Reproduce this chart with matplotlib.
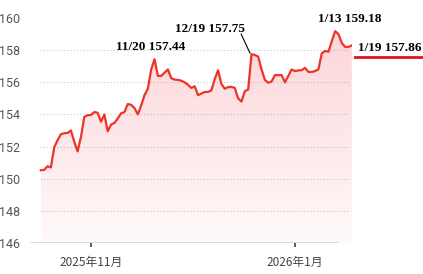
import numpy as np
import pandas as pd
import matplotlib
matplotlib.use("Agg")
import matplotlib.pyplot as plt
import matplotlib.dates as mdates

plt.rcParams['font.family'] = ['Roboto', 'Noto Sans CJK SC', 'DejaVu Sans']

# USD/JPY daily
dates = pd.date_range("2025-10-17", "2026-01-18", freq="D")
values = [150.53, 150.55, 150.78, 150.70, 151.95, 152.40, 152.77, 152.83, 152.85, 153.00,
          152.30, 151.70, 152.60, 153.85, 153.95, 153.97, 154.15, 154.10, 153.55, 154.00,
          152.95, 153.37, 153.47, 153.75, 154.07, 154.15, 154.65, 154.60, 154.40, 154.00,
          154.55, 155.20, 155.60, 156.80, 157.44, 156.40, 156.40, 156.60, 156.80, 156.25,
          156.17, 156.15, 156.10, 156.00, 155.85, 155.65, 155.75, 155.20, 155.30, 155.40,
          155.40, 155.50, 156.20, 156.75, 155.90, 155.60, 155.70, 155.72, 155.65, 155.00,
          154.80, 155.45, 155.55, 157.75, 157.70, 157.60, 156.80, 156.15, 155.97, 156.05,
          156.45, 156.45, 156.45, 156.00, 156.40, 156.80, 156.70, 156.74, 156.75, 156.90,
          156.65, 156.64, 156.70, 156.80, 157.80, 157.95, 157.90, 158.55, 159.18, 159.00,
          158.45, 158.20, 158.20, 158.30]

y_ticks = [146, 148, 150, 152, 154, 156, 158, 160]
x_ticks = ["2025-11-01", "2026-01-01"]
x_tick_labels = ["2025年11月", "2026年1月"]

notes = [("2025-11-20", "11/20 157.44"), ("2025-12-19", "12/19 157.75"),
         ("2026-01-13", "1/13 159.18"), ("2026-01-19", "1/19 157.86")]

x = mdates.date2num(dates)
y = np.array(values)
nov1 = mdates.date2num(pd.Timestamp("2025-11-01"))
px = 3.344  # pixels per day

fig = plt.figure(figsize=(4.23, 2.74), dpi=100)
ax = fig.add_axes([30 / 423, 31 / 274, 322 / 423, 233 / 274])
ax.set_xlim(nov1 - 61 / px, nov1 + 261 / px)
ax.set_ylim(146, 160.5)

# grid + base line
ax.hlines(y_ticks[1:-1], nov1 - 51 / px, nov1 + 259 / px, colors="#c4cad2",
          linestyles=(0, (1, 2)), linewidth=0.8, zorder=1)
ax.hlines(146, nov1 - 61 / px, nov1 + 247 / px, colors="#555555", linewidth=1.0, zorder=3)

# gradient fill under the line
poly = ax.fill_between(x, y, 146, color="none", lw=0)
grad = np.zeros((256, 1, 4))
grad[:, 0, 0] = 0.95
grad[:, 0, 1] = 0.25
grad[:, 0, 2] = 0.30
grad[:, 0, 3] = np.linspace(0.22, 0.03, 256)
img = ax.imshow(grad, aspect="auto", extent=[x[0], x[-1], 146, 159.5],
                origin="upper", zorder=2)
img.set_clip_path(poly.get_paths()[0], transform=ax.transData)

ax.plot(x, y, color="#ee3328", linewidth=1.6, zorder=4, solid_joinstyle="round")

ax.set_yticks(y_ticks)
ax.set_yticklabels([str(v) for v in y_ticks])
ax.set_xticks(mdates.date2num(pd.to_datetime(x_ticks)))
ax.set_xticklabels(x_tick_labels)
ax.tick_params(axis="y", length=0, pad=7, labelsize=9, labelcolor="#555555")
ax.tick_params(axis="x", length=3, width=1.2, color="#444444", pad=6,
               labelsize=8.5, labelcolor="#444444")
for lab in ax.get_xticklabels():
    lab.set_fontfamily(['Noto Sans CJK SC', 'DejaVu Sans'])
for s in ax.spines.values():
    s.set_visible(False)

serif = dict(fontfamily="Liberation Serif", fontweight="bold", fontsize=9.5,
             color="black", annotation_clip=False)
d = {k: mdates.date2num(pd.Timestamp(k)) for k, _ in notes}
ax.annotate(notes[0][1], (d[notes[0][0]] - 1.1, 158.17), ha="center", va="center", **serif)
ax.annotate(notes[1][1], (d[notes[1][0]] - 12.3, 159.32), ha="center", va="center", **serif)
ax.plot([d[notes[1][0]] - 3.1, d[notes[1][0]] - 0.45], [159.0, 157.82], color="black",
        lw=0.8, zorder=5, clip_on=False)
ax.annotate(notes[2][1], (d[notes[2][0]] + 4.4, 159.97), ha="center", va="center", **serif)
ax.annotate(notes[3][1], (d[notes[3][0]] + 0.8, 158.13), ha="left", va="center", **serif)
ax.plot([d[notes[3][0]] - 0.05, d[notes[3][0]] + 19.9], [157.57, 157.57], color="#e0141e",
        lw=2.0, clip_on=False, zorder=5)

fig.savefig("out.png", dpi=100)
